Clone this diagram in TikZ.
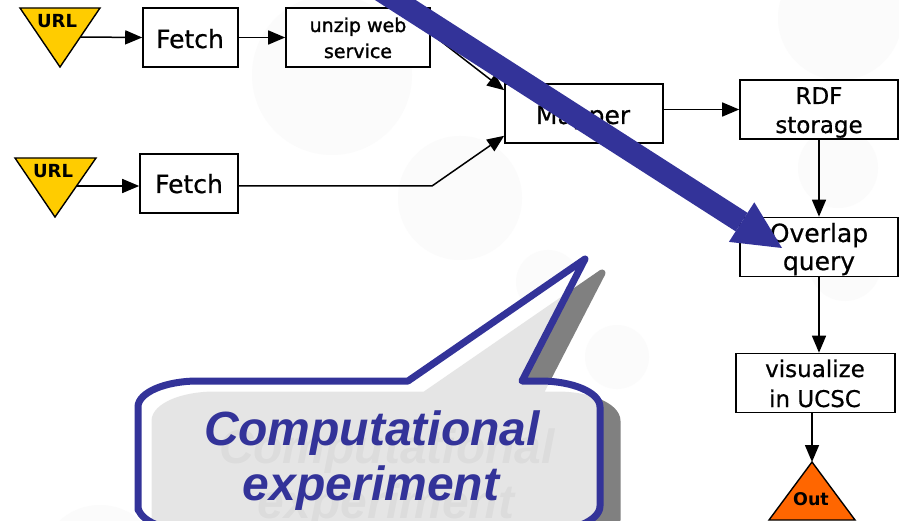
\documentclass[tikz,border=0pt]{standalone}
\usepackage{fontspec}
\setmainfont{DejaVu Sans}
\newfontfamily\calloutfont{Liberation Sans}
\newfontfamily\boxfont[FakeBold=0.6]{DejaVu Sans}
\newfontfamily\smallboxfont[FakeBold=1.4]{DejaVu Sans}
\usetikzlibrary{arrows.meta,calc}
\definecolor{navy}{HTML}{333399}
\definecolor{urlyellow}{HTML}{FFCC00}
\definecolor{outorange}{HTML}{FF6600}
\definecolor{shadowgray}{HTML}{808080}
\definecolor{faint}{HTML}{FBFBFB}
\tikzset{
  flowbox/.style={draw, line width=1.6pt, fill=white, inner sep=0pt, minimum height=59pt},
  boxtext/.style={anchor=base, inner sep=0pt, font=\boxfont\fontsize{25}{28}\selectfont},
  link/.style={line width=1.5pt, -{Triangle[length=17pt,width=14pt]}},
  terminal/.style={draw, line width=1.4pt},
  termlabel/.style={anchor=base, inner sep=0pt, font=\bfseries\fontsize{18}{20}\selectfont},
  bigtext/.style={anchor=base, inner sep=0pt, font=\calloutfont\bfseries\itshape\fontsize{48}{55}\selectfont},
}
% outline of the speech bubble (stroke centre line)
\newcommand\bubblepath{(138,510) -- (138,407) .. controls (138,392.6) and (164.9,381) .. (198,381)
  -- (408,381) -- (585,259) -- (522,381) -- (540,381)
  .. controls (573.1,381) and (600,392.6) .. (600,407) -- (600,506)
  .. controls (600,520.4) and (573.1,532) .. (540,532) -- (198,532)
  .. controls (164.9,532) and (138,520.4) .. (138,506) -- cycle}
\begin{document}
\begin{tikzpicture}[x=1pt,y=-1pt]
\useasboundingbox (0,0) rectangle (899,521);
\begin{scope}
\clip (0,0) rectangle (899,521);
\fill[white] (0,0) rectangle (899,521);

% faint background discs
\foreach \cx/\cy/\r in {332/75/80, 460/198/62, 840/18/62, 838/168/40, 845/265/36,
                        617/357/32, 548/282/32, 100/565/60}
  \fill[faint] (\cx,\cy) circle[radius=\r];

% input terminals
\draw[terminal, fill=urlyellow] (20,8) -- (100,8) -- (60,67) -- cycle;
\node[termlabel] (urlA) at (57,28) {URL};
\coordinate (urlAout) at (80,37);
\draw[terminal, fill=urlyellow] (15,158) -- (96,158) -- (55,217) -- cycle;
\node[termlabel] (urlB) at (53,178) {URL};
\coordinate (urlBout) at (76,186);

% process boxes
\node[flowbox, minimum width=95pt] (fetchA) at (190.5,37.5) {};
\node[flowbox, minimum width=144pt] (unzip) at (358,37.5) {};
\node[flowbox, minimum width=98pt] (fetchB) at (189,183.5) {};
\node[flowbox, minimum width=158pt] (mapper) at (584,113.5) {};
\node[flowbox, minimum width=158pt] (rdf) at (819,109.5) {};
\node[flowbox, minimum width=158pt] (overlap) at (819,247) {};
\node[flowbox, minimum width=159pt] (visual) at (815.5,383) {};

% output terminal
\coordinate (outTop) at (812,462);
\draw[terminal, fill=outorange] (outTop) -- (855,520) -- (769,520) -- cycle;
\node[termlabel, font=\bfseries\fontsize{17.5}{20}\selectfont] (outLabel) at (811,505) {Out};

% box labels
\node[boxtext] (fetchAText) at (190,48) {Fetch};
\node[boxtext, font=\smallboxfont\fontsize{19}{22}\selectfont] (unzipTextA) at (358,32) {unzip web};
\node[boxtext, font=\smallboxfont\fontsize{19}{22}\selectfont] (unzipTextB) at (358,58) {service};
\node[boxtext] (fetchBText) at (189,193) {Fetch};
\node[boxtext] (mapperText) at (583,124) {Mapper};
\node[boxtext, font=\boxfont\fontsize{23}{26}\selectfont] (rdfTextA) at (819,104) {RDF};
\node[boxtext, font=\boxfont\fontsize{23}{26}\selectfont] (rdfTextB) at (819,133) {storage};
\node[boxtext] (overlapTextA) at (819,242) {Overlap};
\node[boxtext] (overlapTextB) at (819,270) {query};
\node[boxtext, font=\boxfont\fontsize{23}{26}\selectfont] (visualTextA) at (815,377) {visualize};
\node[boxtext, font=\boxfont\fontsize{23}{26}\selectfont] (visualTextB) at (815,407) {in UCSC};

% connectors
\draw[link] (urlAout) -- (fetchA.west);
\draw[link] (fetchA.east) -- (unzip.west);
\draw[link] ($(unzip.east)+(0,-4)$) -- ($(mapper.north west)+(0,7)$);
\draw[link] (urlBout) -- (urlBout -| fetchB.west);
\coordinate (bend) at (432,186);
\draw[link] (bend -| fetchB.east) -- (bend) -- ($(mapper.south west)+(0,-8)$);
\draw[link] (mapper.east |- rdf.west) -- (rdf.west);
\draw[link] (rdf.south) -- (overlap.north);
\draw[link] (overlap.south) -- (overlap.south |- visual.north);
\draw[link] (visual.south -| outTop) -- (outTop);

% speech bubble: drop shadow, text shadow, translucent body, outline, text
\begin{scope}[shift={(17,14)}]
  \filldraw[shadowgray, line width=7pt, line join=round] \bubblepath;
\end{scope}
\node[bigtext, text=black!68] (ghostA) at (387,463) {Computational};
\node[bigtext, text=black!68] (ghostB) at (386,518) {experiment};
\fill[white, opacity=0.8] \bubblepath;
\draw[navy, line width=7pt, line join=round] \bubblepath;
\node[bigtext, text=navy] (labelA) at (372,445) {Computational};
\node[bigtext, text=navy] (labelB) at (371,500) {experiment};

% large pointer arrow
\coordinate (ptrStart) at (356.3,-25);
\coordinate (ptrBase) at (741.6,222.1);
\coordinate (ptrTip) at (782,248);
\coordinate (ptrBarbA) at (728.9,241.9);
\coordinate (ptrBarbB) at (754.3,202.3);
\draw[navy, line width=22pt] (ptrStart) -- (ptrBase);
\fill[navy] (ptrTip) -- (ptrBarbA) -- (ptrBarbB) -- cycle;
\end{scope}
\end{tikzpicture}
\end{document}
